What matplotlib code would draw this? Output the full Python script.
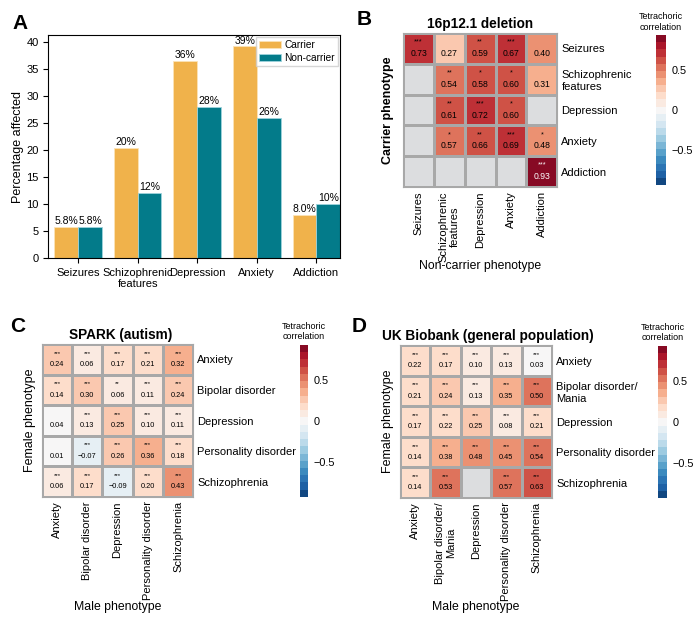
import matplotlib
matplotlib.use("Agg")
import matplotlib.pyplot as plt
from matplotlib.colors import ListedColormap
import numpy as np

plt.rcParams['font.family'] = ['Liberation Sans', 'DejaVu Sans']

# panel A data
cats_a = ["Seizures", "Schizophrenic\nfeatures", "Depression", "Anxiety", "Addiction"]
carrier = [5.8, 20.4, 36.5, 39.2, 8.0]
noncarrier = [5.8, 12.0, 28.0, 26.0, 10.0]
carrier_lbl = ["5.8%", "20%", "36%", "39%", "8.0%"]
noncarrier_lbl = ["5.8%", "12%", "28%", "26%", "10%"]

# panel B data (carrier rows x non-carrier cols)
cats_b = ["Seizures", "Schizophrenic\nfeatures", "Depression", "Anxiety", "Addiction"]
vals_b = [[0.73, 0.27, 0.59, 0.67, 0.40],
          [np.nan, 0.54, 0.58, 0.60, 0.31],
          [np.nan, 0.61, 0.72, 0.60, np.nan],
          [np.nan, 0.57, 0.66, 0.69, 0.48],
          [np.nan, np.nan, np.nan, np.nan, 0.93]]
stars_b = [["***", "", "**", "***", ""],
           ["", "**", "*", "*", ""],
           ["", "**", "***", "*", ""],
           ["", "*", "**", "***", "*"],
           ["", "", "", "", "***"]]

# panel C data (female rows x male cols)
cats_c = ["Anxiety", "Bipolar disorder", "Depression", "Personality disorder", "Schizophrenia"]
vals_c = [[0.24, 0.06, 0.17, 0.21, 0.32],
          [0.14, 0.30, 0.06, 0.11, 0.24],
          [0.04, 0.13, 0.25, 0.10, 0.11],
          [0.01, -0.07, 0.26, 0.36, 0.18],
          [0.06, 0.17, -0.09, 0.20, 0.43]]
stars_c = [["***", "***", "***", "***", "***"],
           ["***", "***", "**", "***", "***"],
           ["", "***", "***", "***", "***"],
           ["", "***", "***", "***", "***"],
           ["***", "***", "***", "***", "***"]]

# panel D data
cats_d = ["Anxiety", "Bipolar disorder/\nMania", "Depression", "Personality disorder", "Schizophrenia"]
vals_d = [[0.22, 0.17, 0.10, 0.13, 0.03],
          [0.21, 0.24, 0.13, 0.35, 0.50],
          [0.17, 0.22, 0.25, 0.08, 0.21],
          [0.14, 0.38, 0.48, 0.45, 0.54],
          [0.14, 0.53, np.nan, 0.57, 0.63]]
stars_d = [["***"] * 5, ["***"] * 5, ["***"] * 5, ["***"] * 5,
           ["***", "***", "", "***", "***"]]

VLIM = 0.93
NLEV = 21
# discrete RdBu_r, extremes trimmed like a seaborn palette
cmap = ListedColormap(plt.get_cmap("RdBu_r")(np.linspace(0, 1, NLEV + 2)[1:-1]))
cmap.set_bad("#dcdddf")

fig = plt.figure(figsize=(7, 6.21), dpi=100)

# ---- A: bars
ax = fig.add_axes([0.069, 0.5845, 0.417, 0.359])
x = np.arange(len(cats_a))
w = 0.4
b1 = ax.bar(x - w / 2, carrier, w, color="#F0B24B", edgecolor="#fbe3b8", linewidth=0.6, label="Carrier")
b2 = ax.bar(x + w / 2, noncarrier, w, color="#037B8A", edgecolor="#9fd3dc", linewidth=0.6, label="Non-carrier")
for r, t in zip(b1, carrier_lbl):
    ax.text(r.get_x() + r.get_width() / 2, r.get_height() + 0.15, t, ha="center", va="bottom", fontsize=7.5)
for r, t in zip(b2, noncarrier_lbl):
    ax.text(r.get_x() + r.get_width() / 2, r.get_height() + 0.15, t, ha="center", va="bottom", fontsize=7.5)
ax.set_xlim(-0.5, 4.4)
ax.set_ylim(0, 41.3)
ax.set_xticks(x)
ax.set_xticklabels(cats_a, fontsize=8)
ax.tick_params(axis="y", labelsize=8)
ax.set_ylabel("Percentage affected", fontsize=9)
ax.yaxis.set_label_coords(-0.082, 0.5)
ax.legend(loc="upper right", fontsize=7.3, handlelength=2.2, borderpad=0.3, labelspacing=0.3,
          handletextpad=0.3, borderaxespad=0.2, fancybox=False, edgecolor="#cccccc")


def heat(rect, cbrect, vals, stars, cats, title, tx, ylab, xlab, ylx, xly, fs_num, ybold):
    ax = fig.add_axes(rect)
    data = np.ma.masked_invalid(np.array(vals, dtype=float))
    mesh = ax.pcolormesh(data, cmap=cmap, vmin=-VLIM, vmax=VLIM, edgecolors="#a8a8a8", linewidth=0.9)
    ax.set_xlim(0, 5)
    ax.set_ylim(5, 0)
    for i in range(5):
        for j in range(5):
            v = vals[i][j]
            if np.isnan(v):
                continue
            c = "white" if abs(v) > 0.8 else "black"
            ax.text(j + 0.5, i + 0.67, f"{v:.2f}".replace("-", "\u2212"), ha="center", va="center",
                    fontsize=fs_num, color=c)
            if stars[i][j]:
                ax.text(j + 0.5, i + 0.3, stars[i][j], ha="center", va="center", fontsize=fs_num - 1, color=c)
    for s in ax.spines.values():
        s.set_color("#a8a8a8")
    ax.set_xticks(np.arange(5) + 0.5)
    ax.set_xticklabels(cats, rotation=90, fontsize=8)
    ax.set_yticks(np.arange(5) + 0.5)
    ax.set_yticklabels(cats, fontsize=8)
    ax.yaxis.tick_right()
    ax.tick_params(length=0, pad=3)
    ax.text(tx, 1.015, title, transform=ax.transAxes, ha="center", va="bottom",
            fontsize=9.8, fontweight="bold")
    ax.set_ylabel(ylab, fontsize=9, fontweight="bold" if ybold else "normal")
    ax.yaxis.set_label_coords(ylx, 0.5)
    ax.set_xlabel(xlab, fontsize=8.8, va="center")
    ax.xaxis.set_label_coords(0.5, xly)
    cax = fig.add_axes(cbrect)
    cb = fig.colorbar(mesh, cax=cax, ticks=[-0.5, 0, 0.5])
    cb.outline.set_visible(False)
    cb.ax.tick_params(length=0, labelsize=7.8, pad=4)
    cb.ax.set_yticklabels(["\u22120.5", "0", "0.5"])
    cb.ax.set_title("Tetrachoric\ncorrelation", fontsize=6.5, pad=4)
    return ax


heat([0.576, 0.699, 0.22, 0.248], [0.937, 0.702, 0.0143, 0.2415], vals_b, stars_b, cats_b,
     "16p12.1 deletion", 0.5, "Carrier phenotype", "Non-carrier phenotype", -0.058, -0.513, 6.2, True)
heat([0.06, 0.1997, 0.216, 0.246], [0.4286, 0.1997, 0.0114, 0.245], vals_c, stars_c, cats_c,
     "SPARK (autism)", 0.52, "Female phenotype", "Male phenotype", -0.04, -0.72, 5.3, False)
heat([0.5714, 0.198, 0.217, 0.246], [0.94, 0.198, 0.013, 0.245], vals_d, stars_d, cats_d,
     "UK Biobank (general population)", 0.58, "Female phenotype", "Male phenotype", -0.04, -0.71,
     5.3, False)

for lbl, px, py in [("A", 12, 14), ("B", 357, 10), ("C", 10, 317), ("D", 352, 317)]:
    fig.text(px / 700, 1 - py / 621, lbl, fontsize=15, fontweight="bold", va="top", ha="left")

fig.savefig("out.png", dpi=100)
